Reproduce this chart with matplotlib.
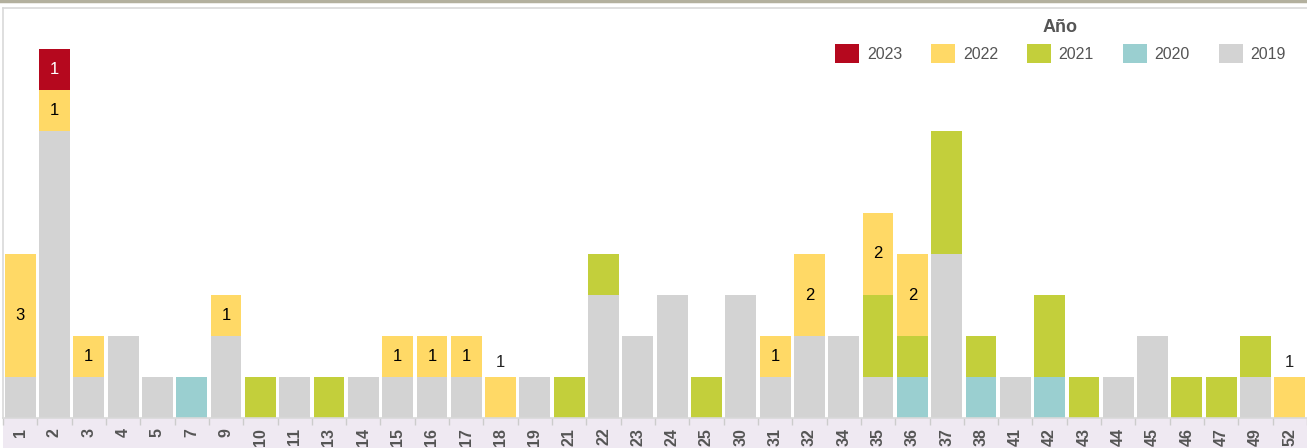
import matplotlib.pyplot as plt
from matplotlib.patches import Patch, Rectangle
from matplotlib.lines import Line2D
import numpy as np

plt.rcParams['font.family'] = ['Liberation Sans', 'DejaVu Sans']

weeks = [1, 2, 3, 4, 5, 7, 9, 10, 11, 13, 14, 15, 16, 17, 18, 19, 21, 22, 23, 24,
         25, 30, 31, 32, 34, 35, 36, 37, 38, 41, 42, 43, 44, 45, 46, 47, 49, 52]

y2019 = [1, 7, 1, 2, 1, 0, 2, 0, 1, 0, 1, 1, 1, 1, 0, 1, 0, 3, 2, 3,
         0, 3, 1, 2, 2, 1, 0, 4, 0, 1, 0, 0, 1, 2, 0, 0, 1, 0]
y2020 = [0, 0, 0, 0, 0, 1, 0, 0, 0, 0, 0, 0, 0, 0, 0, 0, 0, 0, 0, 0,
         0, 0, 0, 0, 0, 0, 1, 0, 1, 0, 1, 0, 0, 0, 0, 0, 0, 0]
y2021 = [0, 0, 0, 0, 0, 0, 0, 1, 0, 1, 0, 0, 0, 0, 0, 0, 1, 1, 0, 0,
         1, 0, 0, 0, 0, 2, 1, 3, 1, 0, 2, 1, 0, 0, 1, 1, 1, 0]
y2022 = [3, 1, 1, 0, 0, 0, 1, 0, 0, 0, 0, 1, 1, 1, 1, 0, 0, 0, 0, 0,
         0, 0, 1, 2, 0, 2, 2, 0, 0, 0, 0, 0, 0, 0, 0, 0, 0, 1]
y2023 = [0, 1, 0, 0, 0, 0, 0, 0, 0, 0, 0, 0, 0, 0, 0, 0, 0, 0, 0, 0,
         0, 0, 0, 0, 0, 0, 0, 0, 0, 0, 0, 0, 0, 0, 0, 0, 0, 0]

series = [("2019", y2019, "#d3d3d3"),
          ("2020", y2020, "#9acfd0"),
          ("2021", y2021, "#c3cf3b"),
          ("2022", y2022, "#ffd966"),
          ("2023", y2023, "#b5081e")]

W, H = 1307, 448
fig = plt.figure(figsize=(W / 100, H / 100), dpi=100)
ax = fig.add_axes([3 / W, 30 / H, 1 - 3 / W, 410 / H])

x = np.arange(len(weeks))
bottom = np.zeros(len(weeks))
for name, vals, col in series:
    vals = np.array(vals, dtype=float)
    ax.bar(x, vals, bottom=bottom, width=0.9, color=col, linewidth=0)
    # value labels only for 2022 and 2023
    if name in ("2022", "2023"):
        tc = "white" if name == "2023" else "black"
        for i in range(len(weeks)):
            if vals[i] > 0:
                if bottom[i] == 0:
                    ax.text(x[i], vals[i] + 0.35, str(int(vals[i])), ha="center",
                            va="center", fontsize=12, color="#222222")
                else:
                    ax.text(x[i], bottom[i] + vals[i] / 2, str(int(vals[i])),
                            ha="center", va="center", fontsize=12, color=tc)
    bottom += vals

ax.set_xlim(-0.5, len(weeks) - 0.5)
ax.set_ylim(0, 10)
ax.set_yticks([])
ax.set_xticks(x)
ax.set_xticklabels([str(w) for w in weeks], rotation=90, fontsize=11.5,
                   fontweight="bold", color="#555555")
ax.tick_params(axis="x", length=0, pad=7)
ax.set_xticks(np.arange(len(weeks) + 1) - 0.5, minor=True)
ax.tick_params(axis="x", which="minor", length=5, color="#cccccc", width=1)

for s in ["top", "left", "bottom"]:
    ax.spines[s].set_color("#d9d9d9")
    ax.spines[s].set_linewidth(1.2)
ax.spines["right"].set_visible(False)

# light purple band behind x labels
fig.add_artist(Rectangle((3 / W, 0), 1 - 3 / W, 30 / H, transform=fig.transFigure,
                         facecolor="#efe9f2", edgecolor="none", zorder=0))
# dark rule along the top
fig.add_artist(Line2D([0, 1], [1 - 1.5 / H, 1 - 1.5 / H], transform=fig.transFigure,
                      color="#b3b09e", linewidth=2.5))

handles = [Patch(facecolor=c, edgecolor="none", label=n) for n, v, c in reversed(series)]
leg = fig.legend(handles=handles, title="Año", ncol=5, loc="upper right",
                 bbox_to_anchor=(1 - 21 / W, 1 - 19 / H), frameon=False,
                 borderaxespad=0, borderpad=0,
                 fontsize=11.5, handlelength=1.5, handleheight=1.5,
                 columnspacing=1.8, handletextpad=0.5, labelcolor="#555555",
                 title_fontproperties={"weight": "bold", "size": 13})
leg.get_title().set_color("#555555")

fig.savefig("out.png", dpi=100)
